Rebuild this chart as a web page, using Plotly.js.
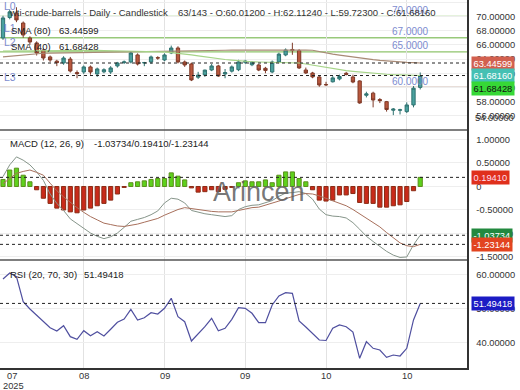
<!DOCTYPE html>
<html><head><meta charset="utf-8">
<script src="https://cdn.plot.ly/plotly-3.0.1.min.js"></script>
<style>html,body{margin:0;padding:0;background:#fff}#chart{width:520px;height:390px}</style>
</head><body><div id="chart"></div>
<script>
// ---------- data ----------
const dates = [
 '2025-07-29','2025-07-30','2025-07-31',
 '2025-08-01','2025-08-04','2025-08-05','2025-08-06','2025-08-07','2025-08-08','2025-08-11','2025-08-12','2025-08-13','2025-08-14','2025-08-15',
 '2025-08-18','2025-08-19','2025-08-20','2025-08-21','2025-08-22','2025-08-25','2025-08-26','2025-08-27','2025-08-28','2025-08-29',
 '2025-09-01','2025-09-02','2025-09-03','2025-09-04','2025-09-05','2025-09-08','2025-09-09','2025-09-10','2025-09-11','2025-09-12',
 '2025-09-15','2025-09-16','2025-09-17','2025-09-18','2025-09-19','2025-09-22','2025-09-23','2025-09-24','2025-09-25','2025-09-26',
 '2025-09-29','2025-09-30',
 '2025-10-01','2025-10-02','2025-10-03','2025-10-06','2025-10-07','2025-10-08','2025-10-09','2025-10-10','2025-10-13','2025-10-14',
 '2025-10-15','2025-10-16','2025-10-17','2025-10-20','2025-10-21','2025-10-22','2025-10-23'];

const openP  = [66.97,69.85,70.49,69.08,66.97,66.27,65.28,64.30,63.70,63.45,64.00,62.10,62.18,62.89,61.90,62.20,62.18,63.03,63.50,63.59,
                64.58,63.45,63.59,64.20,63.87,64.86,65.56,63.59,63.31,61.45,61.76,62.46,63.03,61.90,62.30,62.50,63.55,63.20,63.17,62.70,
                62.18,63.59,64.58,65.35,65.20,62.46,62.04,61.48,60.42,60.80,61.20,62.00,61.48,60.92,58.90,59.20,58.30,58.00,56.80,56.80,
                56.60,57.54,60.012];
const highP  = [70.10,71.00,71.30,69.30,67.20,66.50,65.50,64.50,63.90,64.40,64.30,62.40,63.10,63.10,62.80,62.70,63.00,63.60,63.80,65.10,
                64.80,63.60,64.50,64.40,64.80,65.90,65.80,63.80,63.50,62.20,62.50,63.30,63.20,62.60,63.10,63.90,63.90,63.70,63.30,62.90,
                63.80,64.90,65.50,66.30,65.40,62.80,62.20,61.60,60.80,61.60,61.80,62.20,61.80,61.00,59.40,59.40,58.50,58.10,57.10,57.00,
                57.90,60.20,62.1124];
const lowP   = [66.70,69.60,69.20,67.00,66.00,64.50,63.80,63.60,63.00,63.20,62.10,61.30,61.90,61.80,61.50,62.00,61.90,62.80,63.30,63.40,
                63.10,63.00,63.30,63.90,63.70,64.70,63.40,62.90,60.90,61.20,61.50,62.30,61.50,61.30,62.10,62.30,63.30,63.00,62.30,62.00,
                62.00,63.40,64.40,64.60,62.60,61.90,61.30,60.10,60.20,60.70,61.00,61.70,60.60,57.70,58.60,57.20,57.80,56.60,56.10,56.20,
                56.40,57.20,59.723];
const closeP = [69.79,70.65,69.51,67.39,66.41,64.86,64.15,63.87,63.50,64.15,62.32,61.95,62.89,62.18,62.61,62.50,62.75,63.45,63.60,64.86,
                63.31,63.50,64.30,64.15,64.58,65.56,63.59,63.17,61.06,61.75,62.45,63.03,61.62,62.10,62.90,63.60,63.70,63.55,62.46,62.40,
                63.59,64.70,65.28,65.20,62.75,62.04,61.48,60.35,60.38,61.35,61.55,61.85,60.77,57.82,59.10,58.24,58.15,56.90,56.95,56.85,
                57.54,59.90,61.6816];

const sma80 = [64.32,64.41,64.49,64.58,64.65,64.73,64.82,64.83,64.85,64.86,64.89,64.90,64.92,64.93,64.94,64.97,64.99,65.00,65.01,65.04,
               65.06,65.07,65.08,65.10,65.11,65.13,65.14,65.15,65.17,65.18,65.20,65.21,65.23,65.24,65.25,65.26,65.27,65.27,65.28,65.28,
               65.28,65.28,65.28,65.28,65.28,65.28,65.24,65.04,64.86,64.69,64.55,64.41,64.25,64.11,64.01,63.92,63.82,63.73,63.65,63.58,
               63.53,63.49,63.44599];
const sma40 = [65.14,65.15,65.17,65.18,65.20,65.21,65.23,65.24,65.25,65.27,65.28,65.27,65.25,65.24,65.23,65.21,65.20,65.18,65.17,65.15,
               65.14,65.10,65.06,65.03,65.00,64.92,64.82,64.72,64.58,64.44,64.30,64.18,64.06,63.94,63.85,63.75,63.66,63.62,63.59,63.58,
               63.58,63.56,63.56,63.55,63.45,63.31,63.14,62.96,62.80,62.63,62.46,62.37,62.28,62.18,62.08,62.00,61.90,61.86,61.80,61.76,
               61.73,61.70,61.68428];

const macdLine = [0.21,0.46,0.63,0.56,0.46,0.31,0.13,-0.16,-0.36,-0.51,-0.69,-0.79,-0.89,-0.99,-1.06,-1.11,-1.07,-0.99,-0.87,-0.74,
                  -0.70,-0.66,-0.60,-0.52,-0.35,-0.25,-0.27,-0.35,-0.51,-0.55,-0.58,-0.60,-0.62,-0.64,-0.62,-0.49,-0.43,-0.40,-0.39,-0.35,
                  -0.30,-0.21,-0.14,-0.13,-0.11,-0.15,-0.27,-0.48,-0.60,-0.63,-0.64,-0.67,-0.77,-0.91,-1.06,-1.17,-1.28,-1.38,-1.46,-1.51,
                  -1.50,-1.24,-1.03734];
const signalLine = [0.06,0.17,0.28,0.32,0.35,0.30,0.24,0.07,-0.09,-0.22,-0.34,-0.45,-0.55,-0.64,-0.71,-0.78,-0.81,-0.84,-0.85,-0.83,
                    -0.80,-0.76,-0.72,-0.68,-0.61,-0.55,-0.49,-0.45,-0.47,-0.50,-0.51,-0.53,-0.54,-0.54,-0.54,-0.51,-0.48,-0.45,-0.44,-0.40,
                    -0.36,-0.31,-0.26,-0.21,-0.17,-0.15,-0.16,-0.20,-0.25,-0.30,-0.35,-0.41,-0.49,-0.58,-0.67,-0.77,-0.86,-0.98,-1.09,-1.20,
                    -1.26,-1.28,-1.23144];
const macdHist = [0.15,0.35,0.39,0.24,0.10,-0.07,-0.25,-0.36,-0.46,-0.50,-0.54,-0.56,-0.50,-0.46,-0.41,-0.36,-0.29,-0.16,-0.02,0.08,
                  0.10,0.12,0.15,0.17,0.17,0.29,0.22,0.14,-0.03,-0.12,-0.11,-0.07,-0.11,-0.06,-0.02,0.08,0.12,0.10,0.10,0.14,
                  0.08,0.24,0.31,0.31,0.17,0.10,-0.07,-0.29,-0.31,-0.29,-0.18,-0.18,-0.15,-0.34,-0.36,-0.36,-0.44,-0.44,-0.41,-0.39,
                  -0.32,-0.09,0.19410];

const rsi = [58.68,60.44,59.35,52.00,49.85,48.09,46.12,44.35,43.38,44.94,41.71,40.94,43.47,42.00,43.18,41.91,43.88,45.94,46.91,49.76,
             46.62,47.29,48.76,48.38,50.06,53.00,47.59,46.12,40.44,42.50,44.65,47.12,43.47,44.18,46.82,50.24,50.06,48.59,45.82,45.82,
             51.03,53.68,54.65,54.47,46.32,44.56,42.79,40.74,40.59,44.18,45.15,44.65,43.09,35.35,40.24,38.29,37.79,35.65,36.32,36.03,
             38.29,46.62,51.49418];

const levelValues = [70, 67, 65, 60];
const levelNames  = ['L0', 'L1', 'L2', 'L3'];
const levelLabels = ['70.0000', '67.0000', '65.0000', '60.0000'];

const xTickIdx    = [0, 12, 24, 36, 48, 60];
const xTickLabels = ['07', '08', '09', '09', '10', '10'];
const yearLabel   = '2025';

const priceTicks   = [72, 70, 68, 66, 64, 62, 60, 58, 56];
const macdTicks    = [1, 0.5, 0, -0.5, -1, -1.5];
const macdTickText = ['1.00000', '0.50000', '0', '-0.50000', '-1.00000', '-1.50000'];
const rsiTicks     = [60, 50, 40];

// ---------- helpers / styling ----------
const FONT = 'Liberation Sans, Arial, Helvetica, sans-serif';
const plotW = 467, plotH = 368;
const px = x => x / plotW;
const py = y => (plotH - y) / plotH;
const last = a => a[a.length - 1];
const f5 = v => v.toFixed(5);

const histFill = macdHist.map(v => v >= 0 ? '#5ed11c' : '#c92a1a');
const histEdge = macdHist.map(v => v >= 0 ? '#5c8f1c' : '#8a2c14');

const traces = [
  {type:'candlestick', x:dates, open:openP, high:highP, low:lowP, close:closeP, xaxis:'x', yaxis:'y',
   increasing:{line:{color:'#2f7270', width:1}, fillcolor:'#4aa19e'},
   decreasing:{line:{color:'#7f3a28', width:1}, fillcolor:'#b9583e'},
   whiskerwidth:0, hoverinfo:'skip', showlegend:false},
  {type:'scatter', mode:'lines', x:dates, y:sma80, xaxis:'x', yaxis:'y', line:{color:'#a88a76', width:1.2}, hoverinfo:'skip'},
  {type:'scatter', mode:'lines', x:dates, y:sma40, xaxis:'x', yaxis:'y', line:{color:'#a6d488', width:1.2}, hoverinfo:'skip'},
  {type:'bar', x:dates, y:macdHist, xaxis:'x', yaxis:'y2', width:0.62,
   marker:{color:histFill, line:{color:histEdge, width:1}}, hoverinfo:'skip'},
  {type:'scatter', mode:'lines', x:dates, y:macdLine, xaxis:'x', yaxis:'y2', line:{color:'#86958a', width:1}, hoverinfo:'skip'},
  {type:'scatter', mode:'lines', x:dates, y:signalLine, xaxis:'x', yaxis:'y2', line:{color:'#a8705c', width:1}, hoverinfo:'skip'},
  {type:'scatter', mode:'lines', x:dates, y:rsi, xaxis:'x', yaxis:'y3', line:{color:'#4f4f9f', width:1.2}, hoverinfo:'skip'}
];

const shapes = [];
const annotations = [];
const levelColors = ['#98c97a', '#98c97a', '#8fc46c', '#a27e68'];
levelValues.forEach((v, k) => {
  shapes.push({type:'line', xref:'paper', x0:0, x1:1, yref:'y', y0:v, y1:v, layer:'between',
               line:{color:levelColors[k], width:1.3}});
  annotations.push({xref:'paper', x:0, xshift:2, xanchor:'left', yref:'y', y:v, yshift:10, yanchor:'middle',
                    text:levelNames[k], showarrow:false, font:{size:10.5, color:'#7d8ccf'}});
  annotations.push({xref:'paper', x:px(410), xanchor:'center', yref:'y', y:v, yshift:6, yanchor:'middle',
                    text:levelLabels[k], showarrow:false, font:{size:10, color:'#7d8ccf'}});
});

const dashed = (yref, v) => ({type:'line', xref:'paper', x0:0, x1:1, yref:yref, y0:v, y1:v, layer:'above',
                              line:{color:'#222', width:1, dash:'3px,3px'}});
shapes.push(dashed('y', last(sma80)), dashed('y', last(closeP)));
shapes.push(dashed('y2', last(macdHist)), dashed('y2', last(macdLine)), dashed('y2', last(signalLine)));
shapes.push(dashed('y3', last(rsi)));

// pane separators
[py(130), py(260)].forEach(y => shapes.push({type:'line', xref:'paper', x0:0, x1:1, yref:'paper', y0:y, y1:y,
                                              layer:'above', line:{color:'#555', width:1.6}}));

const tag = (yref, v, text, bg, fg, yshift) => ({xref:'paper', x:1, xshift:4, xanchor:'left', yref:yref, y:v,
  yshift:yshift || 0, yanchor:'middle', text:text, showarrow:false, bgcolor:bg, borderpad:1.5,
  font:{size:9.3, color:fg}});
annotations.push(tag('y', last(sma80), f5(last(sma80)), '#d2604f', '#fff'));
annotations.push(tag('y', last(closeP), f5(last(closeP)), '#44c0b3', '#fff'));
annotations.push(tag('y', last(sma40), f5(last(sma40)), '#36d836', '#111', -12.5));
annotations.push(tag('y2', last(macdHist), f5(last(macdHist)), '#e0301c', '#fde'));
annotations.push(tag('y2', last(macdLine), f5(last(macdLine)), '#22893f', '#fff'));
annotations.push(tag('y2', last(signalLine), f5(last(signalLine)), '#e2441f', '#fff'));
annotations.push(tag('y3', last(rsi), f5(last(rsi)), '#1c1cc4', '#fff'));

// clipped bottom price label
annotations.push({xref:'paper', x:1, xshift:6, xanchor:'left', yref:'paper', y:py(118), yanchor:'middle',
                  text:'54.00000', showarrow:false, font:{size:9.3, color:'#333'}});

const txt = (x, y, text, size, color) => ({xref:'paper', yref:'paper', x:px(x), y:py(y), xanchor:'left', yanchor:'middle',
  text:text, showarrow:false, font:{size:size || 9.5, color:color || '#333'}});
annotations.push(txt(7, 12.5, 'wti-crude-barrels - Daily - Candlestick'));
annotations.push(txt(176, 12.5, '63/143 - O:' + f5(last(openP)) + ' - H:' + f5(last(highP)) +
                 ' - L:' + f5(last(lowP)) + ' - C:' + f5(last(closeP))));
annotations.push(txt(9, 30, 'SMA (80)', 9.5, '#222'));
annotations.push(txt(57, 30, f5(last(sma80)), 9.5, '#222'));
annotations.push(txt(9, 46.5, 'SMA (40)', 9.5, '#222'));
annotations.push(txt(57, 46.5, f5(last(sma40)), 9.5, '#222'));
annotations.push(txt(8, 143.5, 'MACD (12, 26, 9)', 9.5, '#222'));
annotations.push(txt(92, 143.5, f5(last(macdLine)) + '/' + f5(last(macdHist)) + '/' + f5(last(signalLine)), 9.5, '#222'));
annotations.push(txt(8, 274, 'RSI (20, 70, 30)', 9.5, '#222'));
annotations.push(txt(82, 274, f5(last(rsi)), 9.5, '#222'));

// watermark
annotations.push({xref:'paper', yref:'paper', x:px(259), y:py(192), xanchor:'center', yanchor:'middle',
                  text:'Arincen', showarrow:false, font:{size:27, color:'rgba(95,95,95,0.85)'}});

// x tick labels
xTickIdx.forEach((i, k) => {
  annotations.push({xref:'x', x:dates[i], xshift: k === 0 ? 9 : 0, xanchor:'center', yref:'paper', y:0, yshift:-1,
                    yanchor:'top', text:xTickLabels[k], showarrow:false, font:{size:9.3, color:'#333'}});
});
annotations.push({xref:'x', x:dates[xTickIdx[0]], xshift:10.5, xanchor:'center', yref:'paper', y:0, yshift:-10.5,
                  yanchor:'top', text:yearLabel, showarrow:false, font:{size:9.3, color:'#333'}});

const yCommon = {side:'right', anchor:'x', showgrid:true, gridcolor:'#eeeeee', showline:true, linecolor:'#333',
                 linewidth:1.5, ticks:'', ticklabelstandoff:6, zeroline:false, fixedrange:true,
                 tickfont:{size:9.3, color:'#333'}};

const layout = {
  width:520, height:390, margin:{l:0, r:53, t:0, b:22}, paper_bgcolor:'#fff', plot_bgcolor:'#fff',
  showlegend:false, font:{family:FONT, size:9.3, color:'#333'}, bargap:0.3,
  xaxis:{type:'category', range:[-0.446, 68.95], anchor:'y3', tickvals:xTickIdx.slice(1).map(i => dates[i]),
         showticklabels:false, showgrid:true, gridcolor:'#e2e2e2', showline:true, linecolor:'#333', linewidth:1.5,
         ticks:'', zeroline:false, rangeslider:{visible:false}, fixedrange:true},
  yaxis:Object.assign({}, yCommon, {domain:[1 - 130/368, 1], range:[54.01, 72.32], tickvals:priceTicks, tickformat:'.5f'}),
  yaxis2:Object.assign({}, yCommon, {domain:[108/368, 238/368], range:[-1.564, 1.202], tickvals:macdTicks, ticktext:macdTickText}),
  yaxis3:Object.assign({}, yCommon, {domain:[0, 108/368], range:[32.5, 64.26], tickvals:rsiTicks, tickformat:'.5f'}),
  shapes:shapes, annotations:annotations
};

Plotly.newPlot('chart', traces, layout, {staticPlot:true, displayModeBar:false});
</script></body></html>
